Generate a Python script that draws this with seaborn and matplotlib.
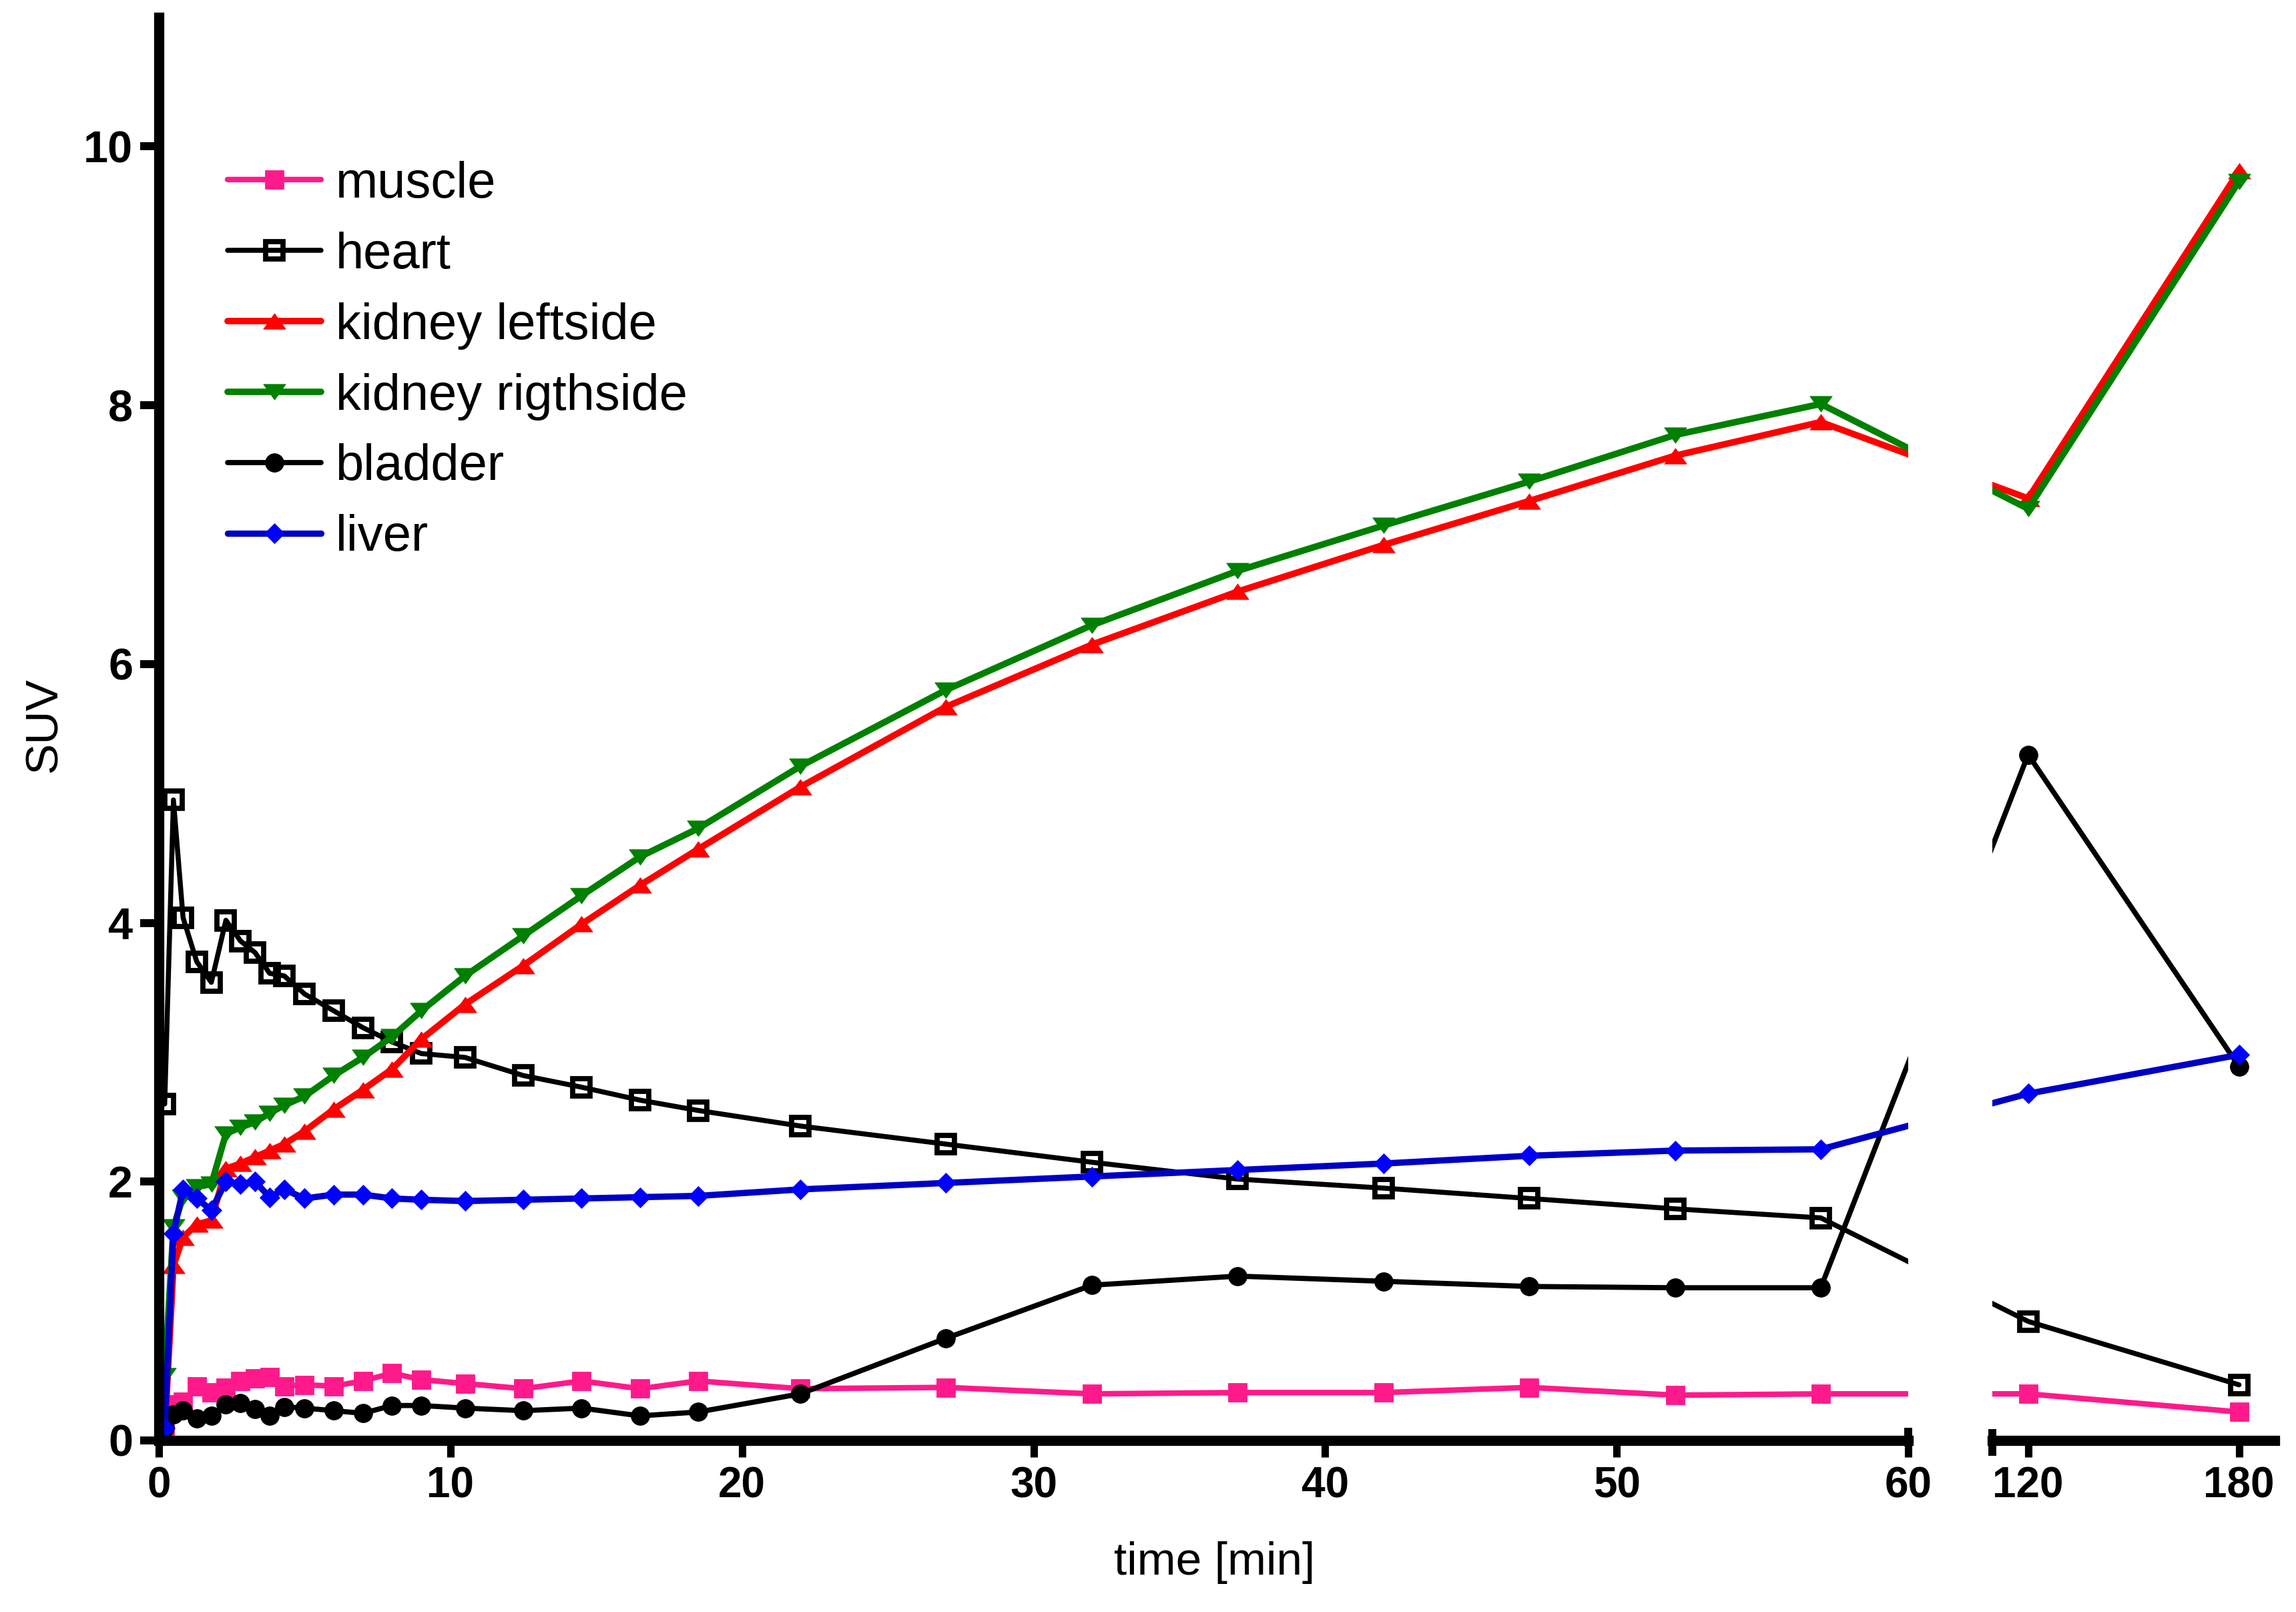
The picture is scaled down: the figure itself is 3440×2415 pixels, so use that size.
import numpy as np
import pandas as pd
import matplotlib
matplotlib.use("Agg")
import matplotlib.pyplot as plt
import seaborn as sns

# ---------------- data ----------------
time_min = [0.2, 0.5, 0.83, 1.3, 1.8, 2.3, 2.8, 3.3, 3.8, 4.3, 5, 6, 7, 8, 9,
            10.5, 12.5, 14.5, 16.5, 18.5, 22, 27, 32, 37, 42, 47, 52, 57, 120, 180]
muscle = [0.05, 0.28, 0.30, 0.42, 0.37, 0.41, 0.46, 0.48, 0.49, 0.42, 0.43, 0.42, 0.46, 0.52, 0.47,
          0.44, 0.40, 0.46, 0.40, 0.46, 0.40, 0.41, 0.36, 0.37, 0.37, 0.41, 0.35, 0.36, 0.36, 0.22]
heart = [2.60, 4.95, 4.04, 3.70, 3.54, 4.02, 3.86, 3.77, 3.61, 3.59, 3.45, 3.32, 3.19, 3.08, 2.99,
         2.96, 2.82, 2.73, 2.63, 2.55, 2.43, 2.29, 2.15, 2.02, 1.95, 1.87, 1.79, 1.72, 0.92, 0.43]
kidney_left = [0.05, 1.35, 1.57, 1.67, 1.70, 2.10, 2.14, 2.19, 2.24, 2.29, 2.39, 2.56, 2.71, 2.87, 3.10,
               3.37, 3.67, 3.99, 4.29, 4.57, 5.05, 5.67, 6.15, 6.56, 6.92, 7.26, 7.61, 7.87, 7.28, 9.81]
kidney_right = [0.50, 1.65, 1.88, 1.96, 1.98, 2.37, 2.42, 2.46, 2.53, 2.59, 2.66, 2.82, 2.96, 3.12, 3.32,
                3.59, 3.90, 4.21, 4.51, 4.73, 5.21, 5.80, 6.30, 6.72, 7.07, 7.41, 7.77, 8.01, 7.20, 9.73]
bladder = [0.10, 0.20, 0.23, 0.17, 0.19, 0.28, 0.29, 0.24, 0.19, 0.26, 0.25, 0.23, 0.21, 0.27, 0.27,
           0.25, 0.23, 0.25, 0.19, 0.22, 0.36, 0.79, 1.20, 1.27, 1.23, 1.19, 1.18, 1.18, 5.30, 2.89]
liver = [0.10, 1.60, 1.94, 1.87, 1.78, 2.00, 1.98, 2.00, 1.88, 1.94, 1.87, 1.90, 1.90, 1.87, 1.86,
         1.85, 1.86, 1.87, 1.88, 1.89, 1.94, 1.99, 2.04, 2.09, 2.14, 2.20, 2.24, 2.25, 2.68, 2.98]

series_names = ["muscle", "heart", "kidney leftside", "kidney rigthside", "bladder", "liver"]
left_xticks = [0, 10, 20, 30, 40, 50, 60]
right_xticks = [120, 180]
yticks = [0, 2, 4, 6, 8, 10]

df = pd.DataFrame({
    "time": time_min,
    "muscle": muscle,
    "heart": heart,
    "kidney leftside": kidney_left,
    "kidney rigthside": kidney_right,
    "bladder": bladder,
    "liver": liver,
})

# ---------------- broken time scale (Prism-style, segment 60-120 drawn straight across gap) ----
K1 = 4.114 / 60.0      # 60..120 compressed
F120 = 64.114
K2 = 0.12054           # 120..180 segment


def fwd(x):
    x = np.asarray(x, dtype=float)
    return np.where(x <= 60, x,
                    np.where(x <= 120, 60 + (x - 60) * K1, F120 + (x - 120) * K2))


def inv(y):
    y = np.asarray(y, dtype=float)
    return np.where(y <= 60, y,
                    np.where(y <= F120, 60 + (y - 60) / K1, 120 + (y - F120) / K2))


# ---------------- style ----------------
sns.set_theme(style="white")
plt.rcParams["font.family"] = ["Liberation Sans", "DejaVu Sans"]
plt.rcParams["text.color"] = "black"
plt.rcParams["axes.labelcolor"] = "black"
plt.rcParams["xtick.color"] = "black"
plt.rcParams["ytick.color"] = "black"

tri_up = [(-1, -0.7), (1, -0.7), (0, 0.7), (-1, -0.7)]
tri_down = [(-1, 0.7), (1, 0.7), (0, -0.7), (-1, 0.7)]

styles = {
    "muscle": dict(color="#FF1A8C", marker="s", markersize=10, markerfacecolor="#FF1A8C",
                   markeredgecolor="#FF1A8C", markeredgewidth=0.3, linewidth=3.0),
    "heart": dict(color="black", marker="s", markersize=9.4, markerfacecolor="none",
                  markeredgecolor="black", markeredgewidth=2.8, linewidth=2.7),
    "kidney leftside": dict(color="#FF0000", marker=tri_up, markersize=12, markerfacecolor="#FF0000",
                            markeredgecolor="#FF0000", markeredgewidth=0.3, linewidth=3.5),
    "kidney rigthside": dict(color="#008000", marker=tri_down, markersize=12, markerfacecolor="#008000",
                             markeredgecolor="#008000", markeredgewidth=0.3, linewidth=3.5),
    "bladder": dict(color="black", marker="o", markersize=10, markerfacecolor="black",
                    markeredgecolor="black", markeredgewidth=0.3, linewidth=2.8),
    "liver": dict(color="#0000C4", marker="D", markersize=7.5, markerfacecolor="#0000FF",
                  markeredgecolor="#0000FF", markeredgewidth=0.3, linewidth=3.4),
}

fig = plt.figure(figsize=(17.2, 12.075), dpi=200)
bottom = 0.10642
height = 0.88302
ax1 = fig.add_axes([0.06919, bottom, 0.76192, height])
ax2 = fig.add_axes([0.86773, bottom, 0.12297, height])

for ax in (ax1, ax2):
    ax.set_xscale("function", functions=(fwd, inv))
    for name in series_names:
        sns.lineplot(data=df, x="time", y=name, ax=ax, sort=False, estimator=None,
                     errorbar=None, label=name, **styles[name])
    ax.set_xlabel("")
    ax.set_ylabel("")
    ax.set_ylim(0, 11)
    if ax.get_legend() is not None:
        ax.get_legend().remove()

ax1.set_xlim(0, 60)
ax2.set_xlim(float(inv(62.885)), float(inv(72.569)))

ax1.set_xticks(left_xticks)
ax1.set_xticklabels([str(v) for v in left_xticks])
ax1.set_yticks(yticks)
ax1.set_yticklabels([str(v) for v in yticks])
ax2.set_xticks(right_xticks)
ax2.set_xticklabels([str(v) for v in right_xticks])
ax2.set_yticks([])
for ax in (ax1, ax2):
    ax.xaxis.set_minor_locator(matplotlib.ticker.NullLocator())

for ax in (ax1, ax2):
    ax.set_facecolor("white")
    ax.grid(False)
    for side in ("top", "right"):
        ax.spines[side].set_visible(False)
    ax.spines["bottom"].set_linewidth(5.5)
    ax.spines["bottom"].set_color("black")
    ax.tick_params(axis="x", direction="out", length=9, width=4.0, colors="black",
                   labelcolor="black", labelsize=23, pad=5, bottom=True)
ax1.spines["left"].set_linewidth(5.5)
ax1.spines["left"].set_color("black")
ax1.tick_params(axis="y", direction="out", length=10, width=4.3, colors="black",
                labelcolor="black", labelsize=24, pad=4, left=True)
ax2.spines["left"].set_visible(False)
ax2.tick_params(axis="y", left=False, labelleft=False)

for lab in ax1.get_xticklabels() + ax1.get_yticklabels() + ax2.get_xticklabels():
    lab.set_fontweight("bold")

# axis-break caps
ax1.plot([1, 1], [-0.004, 0.009], transform=ax1.transAxes, color="black", lw=4.3,
         clip_on=False, solid_capstyle="butt")
ax2.plot([0, 0], [-0.011, 0.008], transform=ax2.transAxes, color="black", lw=4.3,
         clip_on=False, solid_capstyle="butt")

# legend
handles, labels = ax1.get_legend_handles_labels()
leg = ax1.legend(handles[:6], labels[:6], loc="upper left", bbox_to_anchor=(0.0393, 0.899),
                 frameon=False, fontsize=27.3, handlelength=1.85, handletextpad=0.28,
                 labelspacing=0.46, borderaxespad=0, borderpad=0)
for t in leg.get_texts():
    t.set_color("black")

fig.text(0.529, 0.0306, "time [min]", ha="center", va="center", fontsize=25, color="black")
fig.text(0.0192, 0.5503, "SUV", ha="center", va="center", rotation=90, fontsize=25, color="black")

fig.savefig("out.png", dpi=200, facecolor="white")
